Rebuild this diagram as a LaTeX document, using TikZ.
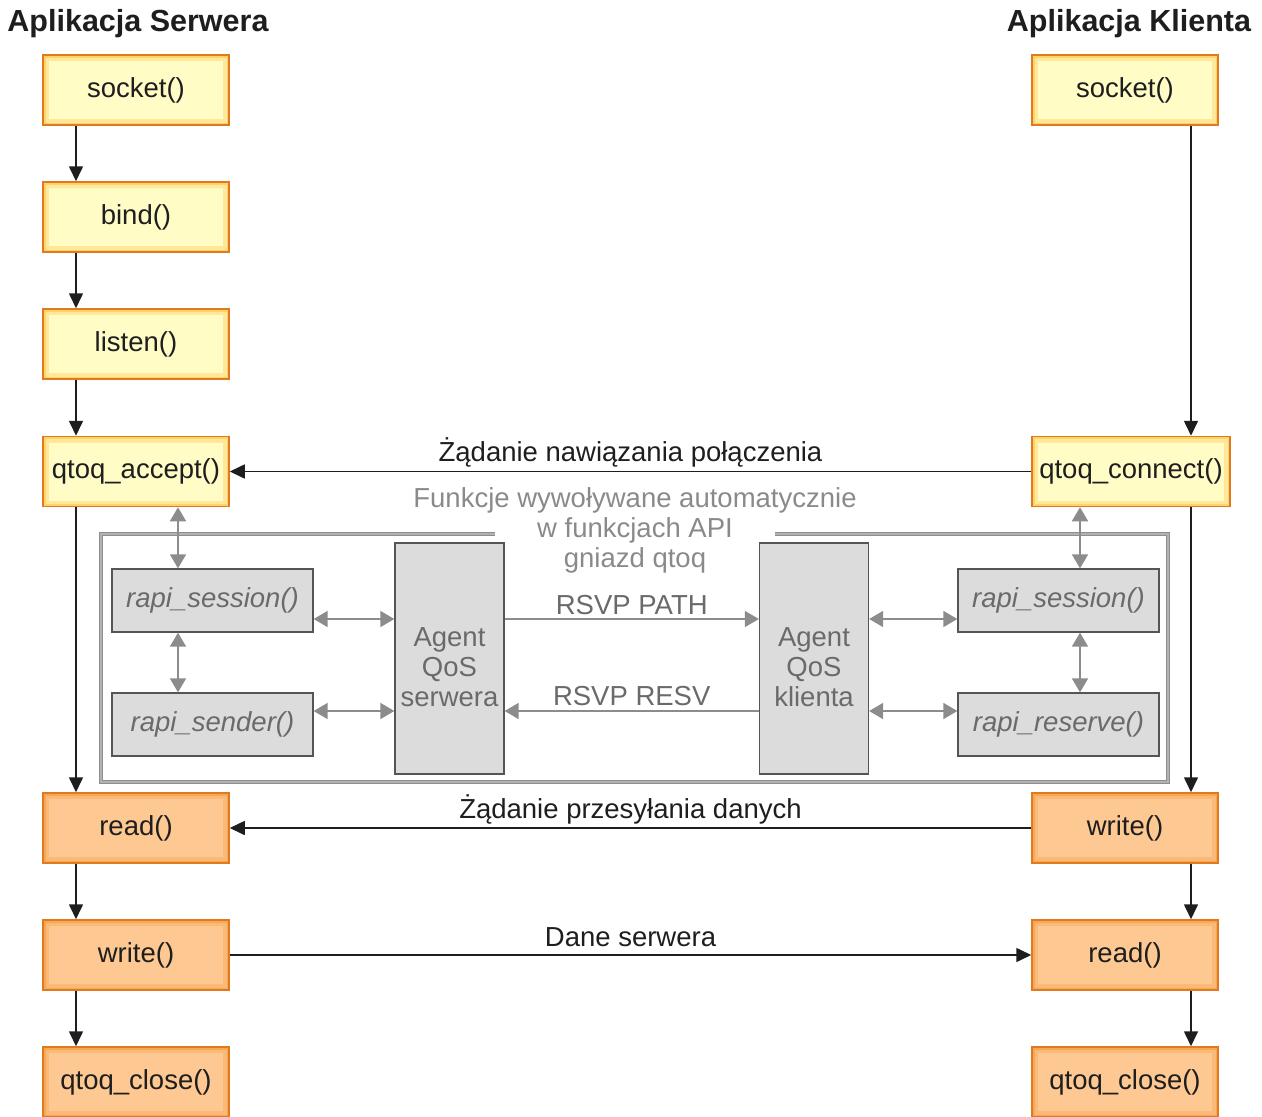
\documentclass[tikz,border=0pt]{standalone}
\usepackage{fontspec}
\setmainfont{Liberation Sans}
\usetikzlibrary{arrows.meta}
\definecolor{oborder}{HTML}{E07A1E}
\definecolor{yfill}{HTML}{FFFCC6}
\definecolor{yglow}{HTML}{FFC54A}
\definecolor{ofill}{HTML}{FDC892}
\definecolor{oglow}{HTML}{F7993A}
\definecolor{gfill}{HTML}{DCDCDC}
\definecolor{gborder}{HTML}{555555}
\definecolor{gline}{HTML}{8C8C8C}
\definecolor{gframe}{HTML}{8E8E8E}
\definecolor{gframein}{HTML}{B2B2B2}
\definecolor{gtext}{HTML}{6A6A6A}
\definecolor{ftext}{HTML}{8A8A8A}
\definecolor{btext}{HTML}{1E1E1E}
\tikzset{
  fnt/.style={font=\fontsize{27.5}{30}\selectfont},
  ybox/.style={rectangle, draw=oborder, line width=1.5pt, fill=yfill, fnt, text=btext,
    minimum width=186pt, minimum height=70pt, inner sep=0pt,
    path picture={\draw[line width=12pt, yglow, opacity=.35] (path picture bounding box.south west) rectangle (path picture bounding box.north east);
                  \draw[line width=5pt, yglow, opacity=.6] (path picture bounding box.south west) rectangle (path picture bounding box.north east);}},
  obox/.style={rectangle, draw=oborder, line width=1.5pt, fill=ofill, fnt, text=btext,
    minimum width=186pt, minimum height=70pt, inner sep=0pt,
    path picture={\draw[line width=12pt, oglow, opacity=.3] (path picture bounding box.south west) rectangle (path picture bounding box.north east);
                  \draw[line width=5pt, oglow, opacity=.55] (path picture bounding box.south west) rectangle (path picture bounding box.north east);}},
  gbox/.style={rectangle, draw=gborder, line width=1.3pt, fill=gfill, text=gtext,
    font=\fontsize{27.5}{30}\selectfont\itshape, minimum width=201pt, minimum height=63pt, inner sep=0pt},
  agent/.style={rectangle, draw=gborder, line width=1.3pt, fill=gfill,
    minimum width=109pt, minimum height=231pt, inner sep=0pt},
  agtxt/.style={text=gtext, font=\fontsize{27.5}{30}\selectfont, align=center, inner sep=0pt},
  arr/.style={line width=1.6pt, btext, -{Triangle[length=15pt,width=14pt]}},
  garr/.style={line width=1.6pt, gline, {Triangle[length=14pt,width=16pt]}-{Triangle[length=14pt,width=16pt]}},
  gone/.style={line width=1.6pt, gline, -{Triangle[length=14pt,width=16pt]}},
  lbl/.style={fnt, text=btext, inner sep=3pt},
  glbl/.style={fnt, text=gtext, inner sep=3pt},
  title/.style={font=\fontsize{30.5}{32}\selectfont\bfseries, text=btext, inner sep=0pt}
}
\begin{document}
\begin{tikzpicture}[x=1pt,y=-1pt]
\useasboundingbox (0,0) rectangle (1262,1117);
% titles
\node[title] (ts) at (138,24) {Aplikacja Serwera};
\node[title] (tc) at (1129,24) {Aplikacja Klienta};
% left column
\node[ybox] (ssock) at (136,90) {socket()};
\node[ybox] (sbind) at (136,217) {bind()};
\node[ybox] (slist) at (136,344) {listen()};
\node[ybox] (sacc) at (136,471.5) {qtoq\_accept()};
\node[obox] (sread) at (136,828) {read()};
\node[obox] (swrite) at (136,955) {write()};
\node[obox] (sclose) at (136,1082) {qtoq\_close()};
% right column
\node[ybox] (csock) at (1125,90) {socket()};
\node[ybox, minimum width=198pt] (cconn) at (1131,471.5) {qtoq\_connect()};
\node[obox] (cwrite) at (1125,828) {write()};
\node[obox] (cread) at (1125,955) {read()};
\node[obox] (cclose) at (1125,1082) {qtoq\_close()};
% helper coordinates
\coordinate (lx) at (76,0);
\coordinate (rx) at (1191,0);
\coordinate (gl) at (178,0);
\coordinate (gr) at (1080,0);
\coordinate (ya) at (0,619);
\coordinate (yb) at (0,711);
% frame
\draw[gframe, line width=1.2pt, double=gframein, double distance=1.6pt]
  (495,534) -- (101,534) -- (101,782) -- (1168,782) -- (1168,534) -- (775,534);
\node[fnt, text=ftext, align=center, inner sep=0pt] (flbl) at (635,530)
  {Funkcje wywoływane automatycznie\\w funkcjach API\\gniazd qtoq};
% inner boxes
\node[gbox] (lsess) at (212.5,600.5) {rapi\_session()};
\node[gbox] (lsend) at (212.5,724.5) {rapi\_sender()};
\node[agent] (aserv) at (449.5,658.5) {};
\node[agtxt] (aservt) at (449.5,667) {Agent\\QoS\\serwera};
\node[agent] (aclnt) at (814,658.5) {};
\node[agtxt] (aclntt) at (814,667) {Agent\\QoS\\klienta};
\node[gbox] (rsess) at (1058.5,600.5) {rapi\_session()};
\node[gbox] (rres) at (1058.5,724.5) {rapi\_reserve()};
% black flow arrows, left
\draw[arr] (ssock.south -| lx) -- (sbind.north -| lx);
\draw[arr] (sbind.south -| lx) -- (slist.north -| lx);
\draw[arr] (slist.south -| lx) -- (sacc.north -| lx);
\draw[arr] (sacc.south -| lx) -- (sread.north -| lx);
\draw[arr] (sread.south -| lx) -- (swrite.north -| lx);
\draw[arr] (swrite.south -| lx) -- (sclose.north -| lx);
% black flow arrows, right
\draw[arr] (csock.south -| rx) -- (cconn.north -| rx);
\draw[arr] (cconn.south -| rx) -- (cwrite.north -| rx);
\draw[arr] (cwrite.south -| rx) -- (cread.north -| rx);
\draw[arr] (cread.south -| rx) -- (cclose.north -| rx);
% cross arrows
\draw[arr] (cconn.west) -- node[lbl, above] {Żądanie nawiązania połączenia} (sacc.east);
\draw[arr] (cwrite.west) -- node[lbl, above] {Żądanie przesyłania danych} (sread.east);
\draw[arr] (swrite.east) -- node[lbl, above=4pt] {Dane serwera} (cread.west);
% gray arrows
\draw[garr] (sacc.south -| gl) -- (lsess.north -| gl);
\draw[garr] (lsess.south -| gl) -- (lsend.north -| gl);
\draw[garr] (lsess.east |- ya) -- (aserv.west |- ya);
\draw[garr] (lsend.east |- yb) -- (aserv.west |- yb);
\draw[gone] (aserv.east |- ya) -- node[glbl, above] {RSVP PATH} (aclnt.west |- ya);
\draw[gone] (aclnt.west |- yb) -- node[glbl, above, inner sep=4pt] {RSVP RESV} (aserv.east |- yb);
\draw[garr] (aclnt.east |- ya) -- (rsess.west |- ya);
\draw[garr] (aclnt.east |- yb) -- (rres.west |- yb);
\draw[garr] (cconn.south -| gr) -- (rsess.north -| gr);
\draw[garr] (rsess.south -| gr) -- (rres.north -| gr);
\end{tikzpicture}
\end{document}
